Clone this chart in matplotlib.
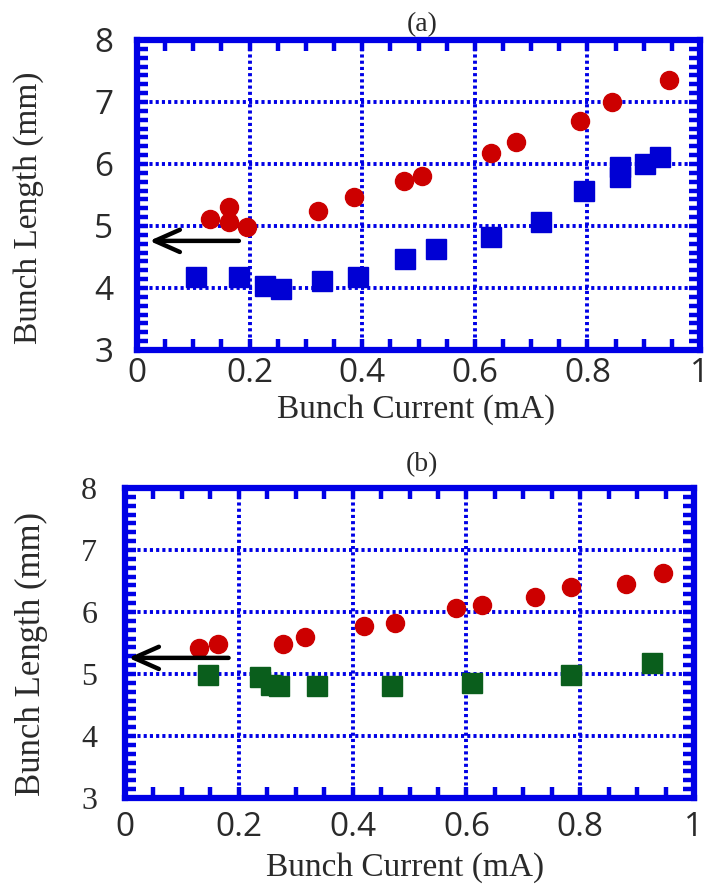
import matplotlib
matplotlib.use("Agg")
import matplotlib.pyplot as plt
from matplotlib.ticker import MultipleLocator, AutoMinorLocator

# panel (a)
a_circle_x = [0.130, 0.164, 0.164, 0.195, 0.321, 0.386, 0.474, 0.506, 0.628, 0.673, 0.786, 0.844, 0.945]
a_circle_y = [5.11, 5.30, 5.06, 4.98, 5.24, 5.46, 5.73, 5.81, 6.18, 6.35, 6.70, 7.00, 7.35]
a_square_x = [0.104, 0.181, 0.228, 0.256, 0.329, 0.392, 0.476, 0.531, 0.628, 0.718, 0.794, 0.858, 0.858, 0.902, 0.929]
a_square_y = [4.17, 4.18, 4.04, 3.99, 4.12, 4.17, 4.47, 4.63, 4.82, 5.06, 5.57, 5.95, 5.79, 6.00, 6.11]
a_arrow = (0.181, 0.022, 4.76)   # tail x, head x, y

# panel (b)
b_circle_x = [0.130, 0.164, 0.278, 0.317, 0.420, 0.475, 0.581, 0.628, 0.721, 0.783, 0.880, 0.945]
b_circle_y = [5.42, 5.48, 5.48, 5.59, 5.77, 5.82, 6.07, 6.11, 6.24, 6.41, 6.45, 6.63]
b_square_x = [0.145, 0.237, 0.257, 0.271, 0.338, 0.470, 0.609, 0.783, 0.927]
b_square_y = [4.98, 4.95, 4.82, 4.80, 4.81, 4.81, 4.85, 4.98, 5.18]
b_arrow = (0.182, 0.006, 5.26)

xticks = [0, 0.2, 0.4, 0.6, 0.8, 1]
xticklabels = ['0', '0.2', '0.4', '0.6', '0.8', '1']
yticks = [3, 4, 5, 6, 7, 8]

W, H = 706, 886
FRAME = '#0000e6'
RED = '#cc0000'
BLUE = '#0000d4'
GREEN = '#0a5e1c'
TXT = '#2a2a2a'

fig = plt.figure(figsize=(W / 100, H / 100), dpi=100)


def make_axes(l, r, t, b):
    return fig.add_axes([l / W, 1 - b / H, (r - l) / W, (b - t) / H])


def style(ax, yfont, ysize, ypad, xpad):
    ax.set_xlim(0, 1)
    ax.set_ylim(3, 8)
    ax.set_xticks(xticks)
    ax.set_xticklabels(xticklabels, family='Open Sans', fontsize=24, color=TXT)
    ax.set_yticks(yticks)
    ax.set_yticklabels([str(v) for v in yticks], family=yfont, fontsize=ysize, color=TXT)
    ax.xaxis.set_minor_locator(MultipleLocator(0.05))
    ax.yaxis.set_minor_locator(AutoMinorLocator(7))
    ax.tick_params(which='both', direction='in', top=True, right=True,
                   color=FRAME, width=3.2, length=8)
    ax.tick_params(axis='y', pad=ypad)
    ax.tick_params(axis='x', pad=xpad)
    for s in ax.spines.values():
        s.set_color(FRAME)
        s.set_linewidth(4.5)
    ax.grid(True, which='major', color=FRAME, linestyle=(0, (0.8, 0.8)), linewidth=2.8)
    ax.set_axisbelow(True)


axa = make_axes(137, 700, 40, 350)
style(axa, 'Open Sans', 24, 17, 5)
axa.plot(a_square_x, a_square_y, 's', color=BLUE, ms=15, zorder=3)
axa.plot(a_circle_x, a_circle_y, 'o', color=RED, ms=13, zorder=4)
axa.annotate('', xy=(a_arrow[1], a_arrow[2]), xytext=(a_arrow[0], a_arrow[2]),
             arrowprops=dict(arrowstyle='->,head_length=1.8,head_width=0.8',
                             color='black', lw=3.2, shrinkA=0, shrinkB=0), zorder=5)

axb = make_axes(125, 694, 488, 798)
style(axb, 'Liberation Serif', 23, 20, 9)
axb.plot(b_square_x, b_square_y, 's', color=GREEN, ms=15, zorder=3)
axb.plot(b_circle_x, b_circle_y, 'o', color=RED, ms=13, zorder=4)
axb.annotate('', xy=(b_arrow[1], b_arrow[2]), xytext=(b_arrow[0], b_arrow[2]),
             arrowprops=dict(arrowstyle='->,head_length=1.8,head_width=0.8',
                             color='black', lw=3.2, shrinkA=0, shrinkB=0), zorder=5)


def ftext(x, y, s, size, rot=0):
    fig.text(x / W, 1 - y / H, s, family='Liberation Serif', fontsize=size,
             ha='center', va='center', rotation=rot, color=TXT)


ftext(422, 25, '(a)', 20)
ftext(416, 410, 'Bunch Current (mA)', 24)
ftext(29, 208, 'Bunch Length (mm)', 24, 90)

ftext(422, 465, '(b)', 20)
ftext(405, 868, 'Bunch Current (mA)', 24)
ftext(31, 654, 'Bunch Length (mm)', 25, 90)

fig.savefig('out.png', dpi=100)
